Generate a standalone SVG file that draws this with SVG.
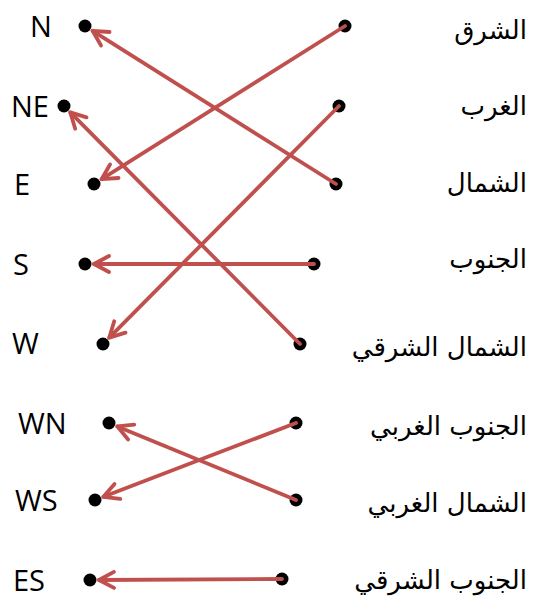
<svg xmlns="http://www.w3.org/2000/svg" width="554" height="600" viewBox="0 0 554 600">
<defs>
<marker id="arr" markerUnits="userSpaceOnUse" markerWidth="30" markerHeight="30" refX="0" refY="0" orient="auto" overflow="visible">
<path d="M-15,-8 L0,0 L-15,8" fill="none" stroke="#c0504d" stroke-width="3.8" stroke-linecap="round" stroke-linejoin="round"/>
</marker>
<style>
.lbl{font-family:"Open Sans","Liberation Sans",sans-serif;font-size:29px;fill:#000}
.ar{font-family:"DejaVu Sans",sans-serif;font-size:26px;fill:#000;text-anchor:end}
.dot{fill:#000}
.con{stroke:#c0504d;stroke-width:3.8;fill:none;stroke-linecap:round;marker-end:url(#arr)}
</style>
</defs>
<rect width="554" height="600" fill="#fff"/>
<g id="left-N"><circle class="dot" cx="85" cy="26" r="6.5"/><text class="lbl" x="30" y="37">N</text></g>
<g id="left-NE"><circle class="dot" cx="64" cy="106" r="6.5"/><text class="lbl" x="11" y="117">NE</text></g>
<g id="left-E"><circle class="dot" cx="94" cy="184" r="6.5"/><text class="lbl" x="14" y="195">E</text></g>
<g id="left-S"><circle class="dot" cx="85" cy="264" r="6.5"/><text class="lbl" x="13" y="275">S</text></g>
<g id="left-W"><circle class="dot" cx="103" cy="344" r="6.5"/><text class="lbl" x="12" y="354">W</text></g>
<g id="left-WN"><circle class="dot" cx="109" cy="423" r="6.5"/><text class="lbl" x="18" y="434">WN</text></g>
<g id="left-WS"><circle class="dot" cx="95" cy="500" r="6.5"/><text class="lbl" x="15" y="511">WS</text></g>
<g id="left-ES"><circle class="dot" cx="90" cy="580" r="6.5"/><text class="lbl" x="13" y="591">ES</text></g>
<g id="right-east"><circle class="dot" cx="345" cy="26" r="6.5"/><text class="ar" x="527" y="39">الشرق</text></g>
<g id="right-west"><circle class="dot" cx="339" cy="106" r="6.5"/><text class="ar" x="527" y="115">الغرب</text></g>
<g id="right-north"><circle class="dot" cx="336" cy="184" r="6.5"/><text class="ar" x="527" y="192">الشمال</text></g>
<g id="right-south"><circle class="dot" cx="314" cy="264" r="6.5"/><text class="ar" x="527" y="268">الجنوب</text></g>
<g id="right-northeast"><circle class="dot" cx="300" cy="344" r="6.5"/><text class="ar" x="527" y="356">الشمال الشرقي</text></g>
<g id="right-southwest"><circle class="dot" cx="296" cy="423" r="6.5"/><text class="ar" x="527" y="435">الجنوب الغربي</text></g>
<g id="right-northwest"><circle class="dot" cx="296" cy="500" r="6.5"/><text class="ar" x="527" y="512">الشمال الغربي</text></g>
<g id="right-southeast"><circle class="dot" cx="282" cy="579" r="6.5"/><text class="ar" x="527" y="589">الجنوب الشرقي</text></g>
<g id="connectors">
<line class="con" x1="336" y1="184" x2="92.6" y2="30.8"/>
<line class="con" x1="345" y1="26" x2="101.6" y2="179.2"/>
<line class="con" x1="300" y1="344" x2="70.3" y2="112.4"/>
<line class="con" x1="339" y1="106" x2="109.3" y2="337.6"/>
<line class="con" x1="314" y1="264" x2="94" y2="264"/>
<line class="con" x1="296" y1="423" x2="103.4" y2="496.8"/>
<line class="con" x1="296" y1="500" x2="117.3" y2="426.4"/>
<line class="con" x1="282" y1="579" x2="99" y2="580"/>
</g>
</svg>
